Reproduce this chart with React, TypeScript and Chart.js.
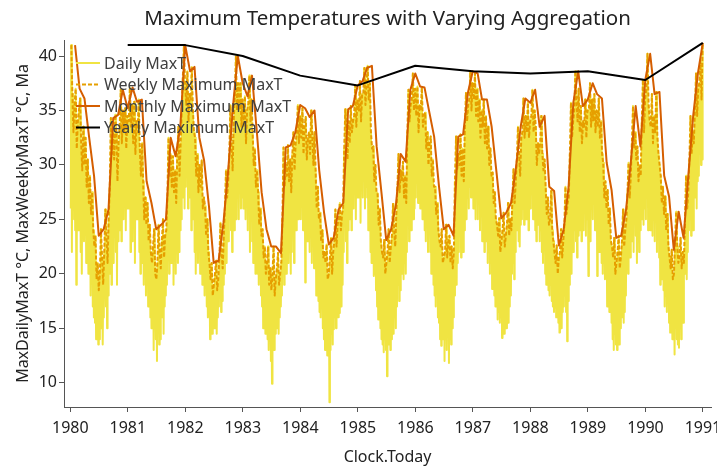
import React, { useEffect, useRef } from 'react';
import { Chart, registerables } from 'chart.js';

Chart.register(...registerables);

const FONT = '"Noto Sans", "Open Sans", sans-serif';

const chartTitle = 'Maximum Temperatures with Varying Aggregation';
const xAxisTitle = 'Clock.Today';
const yAxisTitle = 'MaxDailyMaxT °C, MaxWeeklyMaxT °C, Ma';
const seriesNames = ['Daily MaxT', 'Weekly Maximum MaxT', 'Monthly Maximum MaxT', 'Yearly Maximum MaxT'];
const seriesColors = ['#F0E442', '#E69F00', '#D55E00', '#000000'];

const years = [1980, 1981, 1982, 1983, 1984, 1985, 1986, 1987, 1988, 1989, 1990];
const xTickYears = [1980, 1981, 1982, 1983, 1984, 1985, 1986, 1987, 1988, 1989, 1990, 1991];
const yTickValues = [10, 15, 20, 25, 30, 35, 40];

// weekly maxima (52 weeks per year)
const weeklyMaxT = [
  // 1980
  41.0, 36.5, 33.0, 35.5, 37.0, 31.5, 34.0, 35.0, 36.1, 32.0, 29.5, 33.5, 30.0, 32.5, 28.0, 30.5, 26.5,
  29.0, 25.5, 27.5, 24.0, 22.5, 23.5, 19.5, 21.0, 18.5, 20.0, 24.1, 21.5, 19.0, 22.0, 25.9, 23.5, 21.0, 25.0,
  28.0, 34.3, 31.0, 33.0, 30.5, 34.6, 33.0, 28.5, 32.0, 33.5, 36.9, 32.0, 35.0, 33.0, 35.2, 31.5, 34.5,
  // 1981
  34.0, 37.1, 33.5, 35.5, 32.0, 35.8, 31.0, 34.0, 33.0, 36.0, 31.5, 29.0, 32.0, 28.5, 25.0, 27.0, 24.5,
  26.5, 23.0, 24.5, 22.0, 21.0, 22.5, 24.1, 20.0, 19.5, 21.0, 24.5, 22.0, 20.5, 23.0, 25.0, 21.5, 23.5, 24.0,
  27.0, 32.5, 29.0, 31.0, 28.0, 30.8, 27.5, 29.5, 26.5, 31.0, 33.5, 29.0, 32.0, 35.0, 38.0, 41.0, 37.5,
  // 1982
  35.5, 38.6, 34.0, 36.5, 36.0, 39.0, 35.0, 33.0, 32.5, 29.0, 31.0, 27.5, 30.0, 28.0, 30.4, 26.0, 27.0,
  26.2, 23.5, 25.0, 22.0, 21.0, 19.5, 21.0, 18.0, 19.0, 20.0, 21.2, 18.5, 19.5, 21.5, 24.7, 22.0, 20.5, 23.5,
  26.0, 29.5, 27.0, 28.5, 31.0, 35.5, 32.0, 29.5, 34.0, 36.5, 40.0, 35.0, 37.5, 35.0, 37.5, 33.5, 36.0,
  // 1983
  33.5, 36.3, 32.0, 35.0, 35.5, 38.2, 34.0, 36.0, 33.0, 30.0, 31.5, 28.0, 29.5, 27.5, 24.5, 26.0, 23.5,
  24.1, 21.5, 22.5, 20.0, 21.0, 22.5, 19.0, 20.5, 18.5, 20.0, 22.5, 18.0, 19.5, 20.5, 21.9, 19.0, 20.0, 21.0,
  25.0, 31.6, 28.0, 30.0, 29.0, 31.8, 28.5, 30.5, 27.5, 31.0, 33.0, 29.5, 32.0, 33.0, 35.5, 32.0, 34.5,
  // 1984
  32.5, 35.2, 31.0, 33.5, 34.4, 30.5, 32.5, 33.0, 31.0, 35.0, 32.5, 30.0, 33.0, 29.5, 26.0, 28.0, 25.0,
  25.6, 23.0, 24.0, 21.5, 22.0, 21.0, 22.7, 19.5, 20.0, 21.5, 23.3, 20.0, 22.0, 23.0, 25.9, 22.5, 24.5, 25.0,
  26.5, 24.0, 25.5, 26.0, 31.5, 35.1, 33.0, 30.5, 34.0, 32.0, 35.4, 33.0, 34.0, 34.5, 37.3, 33.5, 36.0,
  // 1985
  35.0, 37.7, 34.0, 36.5, 36.5, 38.9, 35.5, 37.5, 39.1, 36.0, 37.5, 33.0, 31.5, 31.7, 28.5, 30.0, 27.5,
  27.4, 24.5, 26.0, 23.0, 22.0, 21.5, 23.1, 20.0, 21.0, 22.0, 24.1, 21.0, 22.5, 23.5, 26.4, 24.0, 22.5, 25.5,
  28.0, 31.0, 27.5, 29.5, 28.5, 30.3, 27.0, 29.0, 26.5, 33.0, 36.9, 34.0, 35.5, 36.0, 38.4, 35.0, 37.0,
  // 1986
  34.5, 37.2, 33.0, 35.5, 35.0, 37.1, 33.5, 34.5, 34.8, 31.5, 33.0, 30.0, 32.0, 32.6, 29.0, 30.5, 28.0,
  28.0, 25.5, 26.5, 24.0, 23.0, 22.5, 24.1, 21.0, 21.5, 22.0, 24.5, 21.5, 23.0, 23.5, 21.0, 22.5, 20.5, 22.0,
  28.5, 32.6, 29.5, 31.0, 30.0, 32.8, 29.0, 31.5, 28.5, 33.5, 36.6, 34.0, 35.5, 36.0, 38.6, 35.0, 37.5,
  // 1987
  36.0, 38.4, 34.5, 37.0, 34.0, 36.0, 32.5, 35.0, 33.5, 36.0, 32.0, 34.5, 31.5, 33.5, 30.0, 31.5, 29.0,
  29.3, 26.5, 27.5, 25.0, 24.5, 23.5, 25.1, 22.0, 23.0, 24.0, 25.6, 22.5, 23.5, 24.5, 26.5, 23.5, 25.0, 24.0,
  27.0, 29.6, 26.5, 28.5, 30.5, 33.5, 31.0, 29.0, 32.5, 33.0, 36.1, 32.5, 34.5, 33.0, 35.7, 32.5, 34.0,
  // 1988
  34.5, 36.9, 33.0, 35.0, 33.5, 30.0, 32.0, 31.0, 32.0, 34.5, 31.0, 29.5, 30.5, 28.0, 25.5, 27.0, 24.5,
  25.0, 27.6, 24.0, 23.0, 22.0, 21.0, 22.6, 20.0, 21.5, 22.0, 24.1, 21.5, 23.0, 24.5, 28.0, 25.5, 26.5, 27.0,
  31.0, 35.7, 32.5, 34.0, 35.0, 38.6, 36.0, 34.0, 37.0, 33.0, 35.4, 32.0, 34.0, 33.5, 36.0, 32.5, 35.0,
  // 1989
  35.0, 37.5, 33.5, 36.0, 34.0, 36.5, 33.0, 35.0, 33.5, 36.1, 32.5, 34.0, 31.0, 30.2, 27.0, 28.5, 26.0,
  27.7, 24.5, 26.0, 23.0, 22.5, 21.5, 23.3, 20.0, 21.0, 22.0, 23.5, 20.5, 21.5, 23.0, 25.9, 22.5, 24.0, 25.0,
  27.5, 30.2, 27.0, 29.0, 32.0, 35.4, 31.5, 33.0, 30.5, 31.7, 28.5, 30.0, 29.0, 34.0, 37.8, 33.0, 36.0,
  // 1990
  37.0, 40.2, 35.5, 34.0, 33.5, 36.5, 32.0, 34.5, 33.0, 36.7, 32.5, 31.0, 30.0, 29.0, 26.5, 28.0, 25.5,
  27.1, 24.0, 25.5, 22.5, 21.5, 20.5, 22.2, 19.5, 20.0, 23.0, 25.7, 22.5, 21.0, 21.5, 23.3, 20.5, 22.0, 21.0,
  25.0, 29.0, 26.0, 27.5, 30.5, 34.5, 31.0, 33.0, 32.0, 35.0, 38.4, 34.5, 37.0, 37.5, 39.5, 36.0, 41.2,
];

// lowest daily MaxT in each week (52 weeks per year)
const weeklyLowDailyT = [
  // 1980
  26, 22, 28, 25, 24, 19, 26, 24, 25, 22, 20, 26, 23, 24, 21, 23, 20,
  21, 18, 20, 17, 16, 15.5, 14, 16, 13.5, 14, 17, 15, 13.5, 16, 19, 17, 15, 18,
  20, 23, 19, 24, 21, 25, 22, 19, 23, 24, 27, 23, 25, 25, 27, 24, 26,
  // 1981
  26, 28, 22, 27, 23, 26, 21, 25, 25, 27, 22, 20, 23, 21, 19, 22, 18,
  19, 17, 18, 16, 15, 16, 13, 15, 14, 12, 15, 13.5, 14, 16, 17, 14.5, 17, 18,
  19, 22, 20, 23, 21, 23, 19, 22, 20, 23, 21, 22, 24, 25, 27, 28, 26,
  // 1982
  28, 30, 26, 29, 27, 24, 28, 25, 22, 20, 24, 21, 23, 20, 22, 19, 21,
  18, 19, 17, 16, 18, 14, 16, 14.5, 15, 15, 16, 14.5, 16, 17, 18, 16.5, 17.5, 19,
  20, 22, 21, 23, 23, 26, 24, 22, 25, 24, 28, 25, 27, 25, 28, 26, 27,
  // 1983
  26, 28, 25, 27, 24, 27, 22, 25, 23, 21, 24, 20, 22, 20, 19, 21, 18,
  17, 15, 16, 14.5, 15.5, 14, 13, 14.5, 12, 9.9, 14, 13, 14.5, 15, 17, 14.5, 16, 17,
  18, 21, 19, 20, 20, 23, 21, 22, 20, 22, 24, 21, 25, 24, 26, 25, 27,
  // 1984
  25, 27, 24, 26, 19.2, 25, 23, 24, 22, 24, 21, 23, 20.5, 20.5, 18, 20, 17.5,
  16.5, 16, 17, 15, 14, 13, 14.5, 12.5, 13.5, 8.2, 13, 14.5, 13.5, 14.9, 16, 15, 17, 16,
  16.4, 18, 17, 19, 22, 25, 23, 21, 24, 25, 27, 24, 26, 26, 28, 25, 27,
  // 1985
  27, 29, 24.7, 28, 27, 29, 26, 28, 27, 24, 25, 22, 21, 21, 19.8, 20, 18.5,
  17, 15.8, 16.5, 15, 14, 13.5, 12.8, 14, 13, 10.6, 13.5, 14, 13, 14, 15.5, 14.5, 16, 15,
  17, 19, 17.5, 18.5, 20, 22, 19.5, 21, 20, 22, 25, 23, 24, 24, 27, 25, 26,
  // 1986
  27, 29, 26.5, 28, 26, 28, 25, 26.5, 24, 23, 25, 22, 24, 22, 20, 21, 19,
  18, 17, 18.5, 16, 15.5, 14, 13.4, 15, 14, 12, 14, 13, 14.5, 11.8, 14, 13.5, 15, 16,
  18, 20, 19, 21, 22, 24, 21.5, 23, 22, 24, 26, 25, 27, 26, 28, 27, 29,
  // 1987
  26, 28, 25, 27, 25, 27, 24, 26, 23, 25, 22, 24, 23, 21, 22, 20, 21,
  18.6, 19, 18, 17, 17.5, 15.8, 16.5, 15.5, 16, 14.1, 15, 14.5, 15.5, 15, 16.5, 15.5, 17, 18,
  20, 21, 19.5, 22, 24, 25, 23, 22.5, 24.5, 25, 26, 24.5, 26.5, 25, 27, 24, 26,
  // 1988
  26, 27.5, 25, 26.5, 24, 23, 25, 24.5, 23, 24, 22, 21, 23, 20, 19, 21, 18.5,
  18, 19, 17.5, 17, 16.5, 16.9, 16, 17, 15.5, 14.6, 16, 15, 16.5, 17, 18, 16.5, 13.8, 17.5,
  19, 21, 20, 22, 22, 24, 23, 21.5, 23.5, 24, 25, 23, 24.5, 24, 26, 23.5, 25,
  // 1989
  19.8, 25, 23, 26, 25, 27, 24, 26, 19.8, 23, 22, 24, 21, 20, 21, 19.5, 20.5,
  17, 18, 16.5, 17.5, 15.5, 14, 13, 14.5, 13.5, 13, 14, 13.5, 15, 16, 17, 15.5, 16.5, 18,
  21, 20, 22, 21.5, 23, 24, 22, 25, 23.5, 21, 23, 22, 24, 25, 27, 24.5, 26,
  // 1990
  25, 27, 24, 26, 24, 26, 23.5, 25, 23, 25, 22, 24, 21.5, 19, 20.5, 19.5, 18.5,
  17, 18, 16.5, 17.5, 15.5, 14.6, 15, 14, 15.5, 12.6, 15, 14, 13.5, 13.2, 15, 14, 16, 15.5,
  20, 21, 19.5, 22, 24, 25, 23.5, 25.5, 24, 27, 28, 26, 28.5, 29, 31, 30, 30.5,
];

// monthly maxima (12 per year)
const monthlyMaxT = [
  41.0, 37.0, 36.1, 32.5, 29.0, 23.5, 24.1, 25.9, 34.3, 34.6, 36.9, 35.2,
  37.1, 35.8, 36.0, 28.5, 26.5, 24.1, 24.5, 25.0, 32.5, 30.8, 33.5, 41.0,
  38.6, 39.0, 32.5, 30.4, 26.2, 21.0, 21.2, 24.7, 29.5, 35.5, 40.0, 37.5,
  36.3, 38.2, 33.0, 27.5, 24.1, 22.5, 22.5, 21.9, 31.6, 31.8, 33.0, 35.5,
  35.2, 34.4, 35.0, 29.5, 25.6, 22.7, 23.3, 25.9, 26.5, 35.1, 35.4, 37.3,
  37.7, 38.9, 39.1, 31.7, 27.4, 23.1, 24.1, 26.4, 31.0, 30.3, 36.9, 38.4,
  37.2, 37.1, 34.8, 32.6, 28.0, 24.1, 24.5, 23.5, 32.6, 32.8, 36.6, 38.6,
  38.4, 36.0, 36.0, 33.5, 29.3, 25.1, 25.6, 26.5, 29.6, 33.5, 36.1, 35.7,
  36.9, 33.5, 34.5, 28.0, 27.6, 22.6, 24.1, 28.0, 35.7, 38.6, 35.4, 36.0,
  37.5, 36.5, 36.1, 30.2, 27.7, 23.3, 23.5, 25.9, 30.2, 35.4, 31.7, 37.8,
  40.2, 36.5, 36.7, 29.0, 27.1, 22.2, 25.7, 23.3, 29.0, 34.5, 38.4, 41.2,
];

const yearlyMaxT = [41.0, 41.0, 40.0, 38.2, 37.3, 39.1, 38.6, 38.4, 38.6, 37.8, 41.2];

// calendar helpers: date -> fractional year
const daysInYear = (y: number) => ((y % 4 === 0 && y % 100 !== 0) || y % 400 === 0 ? 366 : 365);
const yearFrac = (y: number, dayIndex: number) => y + dayIndex / daysInYear(y);
const monthEndDay = (y: number, m: number) => (Date.UTC(y, m + 1, 0) - Date.UTC(y, 0, 1)) / 86400000;

function buildSeries() {
  const daily: { x: number; y: number }[] = [];
  const weekly: { x: number; y: number }[] = [];
  years.forEach((yr, yi) => {
    for (let k = 0; k < 52; k++) {
      const i = yi * 52 + k;
      daily.push({ x: yearFrac(yr, 7 * k + 3), y: weeklyLowDailyT[i] });
      daily.push({ x: yearFrac(yr, 7 * k + 6), y: weeklyMaxT[i] });
      weekly.push({ x: yearFrac(yr, 7 * k + 6), y: weeklyMaxT[i] });
    }
  });
  const monthly: { x: number; y: number }[] = [];
  years.forEach((yr, yi) => {
    for (let m = 0; m < 12; m++) {
      monthly.push({ x: yearFrac(yr, monthEndDay(yr, m)), y: monthlyMaxT[yi * 12 + m] });
    }
  });
  const yearly = years.map((yr, yi) => ({ x: yearFrac(yr, daysInYear(yr) - 1), y: yearlyMaxT[yi] }));
  return { daily, weekly, monthly, yearly };
}

const overlayPlugin = {
  id: 'overlay',
  afterDraw(chart: any) {
    const { ctx, chartArea } = chart;
    ctx.save();
    // title
    ctx.fillStyle = '#222';
    ctx.font = `20.5px ${FONT}`;
    ctx.textAlign = 'center';
    ctx.textBaseline = 'middle';
    ctx.fillText(chartTitle, (chartArea.left + chartArea.right) / 2, 19);
    // legend
    const rowY = [63, 84.5, 106, 127.5];
    const dashes = [[], [4, 2], [], []];
    ctx.font = `16px ${FONT}`;
    ctx.textAlign = 'left';
    seriesNames.forEach((name, i) => {
      ctx.beginPath();
      ctx.strokeStyle = seriesColors[i];
      ctx.lineWidth = 2;
      ctx.setLineDash(dashes[i]);
      ctx.moveTo(76, rowY[i]);
      ctx.lineTo(100, rowY[i]);
      ctx.stroke();
      ctx.setLineDash([]);
      ctx.fillStyle = '#404040';
      ctx.fillText(name, 104, rowY[i] + 1);
    });
    ctx.restore();
  },
};

export default function App() {
  const ref = useRef<HTMLCanvasElement | null>(null);
  useEffect(() => {
    document.body.style.margin = '0';
    if (!ref.current) return;
    const s = buildSeries();
    const chart = new Chart(ref.current, {
      type: 'line',
      data: {
        datasets: [
          {
            label: seriesNames[0], data: s.daily, borderColor: seriesColors[0], borderWidth: 2,
            pointRadius: 0, tension: 0, borderJoinStyle: 'round', order: 4,
          },
          {
            label: seriesNames[1], data: s.weekly, borderColor: seriesColors[1], borderWidth: 2,
            borderDash: [4, 2], pointRadius: 0, tension: 0, borderJoinStyle: 'round', order: 3,
          },
          {
            label: seriesNames[2], data: s.monthly, borderColor: seriesColors[2], borderWidth: 2,
            pointRadius: 0, tension: 0, borderJoinStyle: 'round', order: 2,
          },
          {
            label: seriesNames[3], data: s.yearly, borderColor: seriesColors[3], borderWidth: 2,
            pointRadius: 0, tension: 0, borderJoinStyle: 'round', order: 1,
          },
        ] as any,
      },
      options: {
        responsive: false,
        animation: false,
        devicePixelRatio: 1,
        layout: { padding: { top: 40, right: 6, left: 0, bottom: 0 }, autoPadding: false } as any,
        plugins: {
          legend: { display: false },
          title: { display: false },
          tooltip: { enabled: false },
        },
        scales: {
          x: {
            type: 'linear',
            min: 1979.89,
            max: 1991.14,
            afterBuildTicks: (sc: any) => { sc.ticks = xTickYears.map((v) => ({ value: v })); },
            afterFit: (sc: any) => { sc.height = 61; sc.paddingLeft = 0; sc.paddingRight = 0; },
            ticks: {
              autoSkip: false, maxRotation: 0, padding: 7, color: '#222',
              font: { family: FONT, size: 16 },
              callback: (v: any) => String(v),
            },
            grid: { display: true, drawOnChartArea: false, drawTicks: true, tickLength: 5, color: '#555' },
            border: { display: true, color: '#555', width: 1 },
            title: {
              display: true, text: xAxisTitle, color: '#222',
              font: { family: FONT, size: 16 }, padding: { top: 0, bottom: 1 },
            },
          },
          y: {
            type: 'linear',
            min: 7.77,
            max: 41.47,
            afterBuildTicks: (sc: any) => { sc.ticks = yTickValues.map((v) => ({ value: v })); },
            afterFit: (sc: any) => { sc.width = 64; sc.paddingTop = 0; sc.paddingBottom = 0; },
            ticks: {
              padding: 2, color: '#222', font: { family: FONT, size: 16 },
              callback: (v: any) => String(v),
            },
            grid: { display: true, drawOnChartArea: false, drawTicks: true, tickLength: 5, color: '#555' },
            border: { display: true, color: '#555', width: 1 },
            title: {
              display: true, text: yAxisTitle, color: '#222',
              font: { family: FONT, size: 16 }, padding: { top: 14, bottom: 0 },
            },
          },
        },
      },
      plugins: [overlayPlugin],
    });
    return () => chart.destroy();
  }, []);
  return (
    <div style={{ width: 717, height: 468 }}>
      <canvas ref={ref} width={717} height={468} style={{ width: 717, height: 468, display: 'block' }} />
    </div>
  );
}
